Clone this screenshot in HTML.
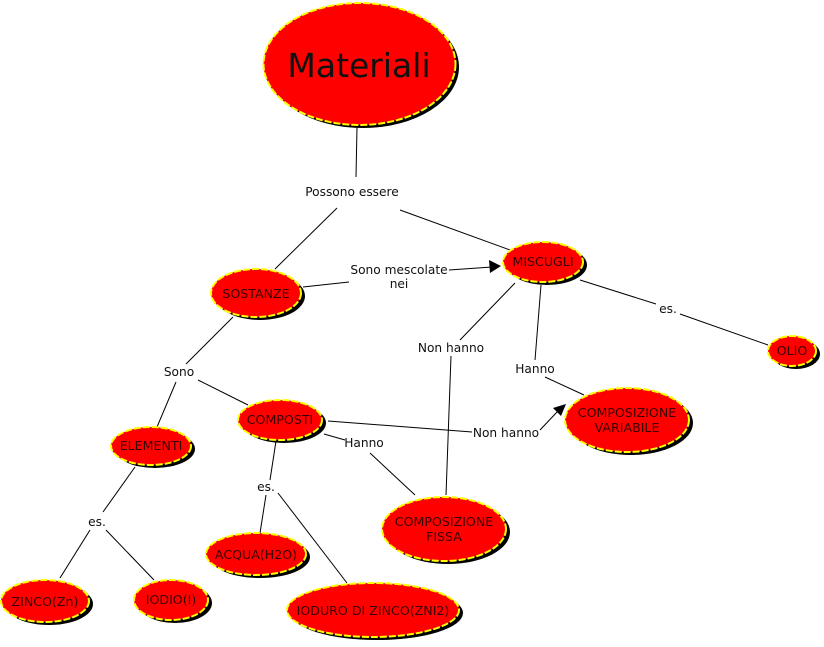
<!DOCTYPE html>
<html><head><meta charset="utf-8"><style>
html,body{margin:0;padding:0;background:#fff;width:824px;height:647px;overflow:hidden}
svg{display:block}
text{font-family:"DejaVu Sans","Liberation Sans",sans-serif}
.n{fill:#f00;stroke:#ff0;stroke-width:2;stroke-dasharray:7 2}
.s{fill:#000}
.t{font-size:12.6px;fill:#3a0000;text-anchor:middle}
.l{font-size:12.2px;fill:#111;text-anchor:middle}
line{stroke:#000;stroke-width:1}
</style></head><body>
<svg width="824" height="647" viewBox="0 0 824 647">
<g>
<line x1="357" y1="127" x2="356" y2="177"/>
<line x1="337" y1="208" x2="275" y2="269"/>
<line x1="400" y1="210" x2="510" y2="250"/>
<line x1="303" y1="287" x2="349" y2="282"/>
<line x1="449" y1="270" x2="492" y2="267"/>
<polygon points="501,266 489,260 490,273" fill="#000"/>
<line x1="233" y1="317" x2="186" y2="364"/>
<line x1="176" y1="382" x2="157" y2="427"/>
<line x1="198" y1="380" x2="248" y2="405"/>
<line x1="515" y1="283" x2="460" y2="340"/>
<line x1="451" y1="356" x2="446" y2="495"/>
<line x1="541" y1="285" x2="535" y2="360"/>
<line x1="545" y1="377" x2="584" y2="395"/>
<line x1="580" y1="280" x2="656" y2="304"/>
<line x1="680" y1="314" x2="768" y2="345"/>
<line x1="328" y1="421" x2="472" y2="432"/>
<line x1="540" y1="430" x2="558" y2="411"/>
<polygon points="566,404 553,408 561,416" fill="#000"/>
<line x1="324" y1="434" x2="345" y2="440"/>
<line x1="370" y1="453" x2="415" y2="495"/>
<line x1="276" y1="441" x2="270" y2="480"/>
<line x1="266" y1="495" x2="260" y2="533"/>
<line x1="278" y1="493" x2="347" y2="583"/>
<line x1="135" y1="467" x2="103" y2="512"/>
<line x1="90" y1="530" x2="60" y2="578"/>
<line x1="106" y1="530" x2="154" y2="580"/>
</g>
<g>
<ellipse class="s" cx="363" cy="67" rx="96" ry="61"/><ellipse class="n" cx="359.5" cy="64" rx="96" ry="61"/>
<ellipse class="s" cx="547" cy="265" rx="40" ry="20"/><ellipse class="n" cx="543" cy="262" rx="40" ry="20"/>
<ellipse class="s" cx="260" cy="296" rx="45" ry="24"/><ellipse class="n" cx="256" cy="293" rx="45" ry="24"/>
<ellipse class="s" cx="796" cy="354" rx="24" ry="15"/><ellipse class="n" cx="792" cy="351" rx="24" ry="15"/>
<ellipse class="s" cx="631" cy="423" rx="62" ry="32"/><ellipse class="n" cx="627" cy="420" rx="62" ry="32"/>
<ellipse class="s" cx="284" cy="423" rx="42" ry="20"/><ellipse class="n" cx="280" cy="420" rx="42" ry="20"/>
<ellipse class="s" cx="155" cy="449" rx="40" ry="19"/><ellipse class="n" cx="151" cy="446" rx="40" ry="19"/>
<ellipse class="s" cx="448" cy="532" rx="62" ry="32"/><ellipse class="n" cx="444" cy="529" rx="62" ry="32"/>
<ellipse class="s" cx="260" cy="557" rx="50" ry="21"/><ellipse class="n" cx="256" cy="554" rx="50" ry="21"/>
<ellipse class="s" cx="49" cy="604" rx="44" ry="21"/><ellipse class="n" cx="45" cy="601" rx="44" ry="21"/>
<ellipse class="s" cx="175" cy="603" rx="37" ry="20"/><ellipse class="n" cx="171" cy="600" rx="37" ry="20"/>
<ellipse class="s" cx="377" cy="613" rx="86" ry="27"/><ellipse class="n" cx="373" cy="610" rx="86" ry="27"/>
</g>
<g>
<text x="359" y="77" style="font-size:33px;fill:#111;text-anchor:middle">Materiali</text>
<text class="t" x="543" y="266">MISCUGLI</text>
<text class="t" x="256" y="298">SOSTANZE</text>
<text class="t" x="792" y="355">OLIO</text>
<text class="t" x="627" y="417">COMPOSIZIONE</text>
<text class="t" x="627" y="432">VARIABILE</text>
<text class="t" x="280" y="424">COMPOSTI</text>
<text class="t" x="151" y="450">ELEMENTI</text>
<text class="t" x="444" y="526">COMPOSIZIONE</text>
<text class="t" x="444" y="541">FISSA</text>
<text class="t" x="256" y="559">ACQUA(H2O)</text>
<text class="t" x="45" y="606">ZINCO(Zn)</text>
<text class="t" x="171" y="604">IODIO(I)</text>
<text class="t" x="373" y="615">IODURO DI ZINCO(ZNI2)</text>
</g>
<g>
<text class="l" x="352" y="196">Possono essere</text>
<text class="l" x="399" y="274">Sono mescolate</text>
<text class="l" x="399" y="288">nei</text>
<text class="l" x="451" y="352">Non hanno</text>
<text class="l" x="535" y="373">Hanno</text>
<text class="l" x="668" y="313">es.</text>
<text class="l" x="179" y="376">Sono</text>
<text class="l" x="506" y="437">Non hanno</text>
<text class="l" x="364" y="447">Hanno</text>
<text class="l" x="266" y="491">es.</text>
<text class="l" x="97" y="526">es.</text>
</g>
</svg>
</body></html>
